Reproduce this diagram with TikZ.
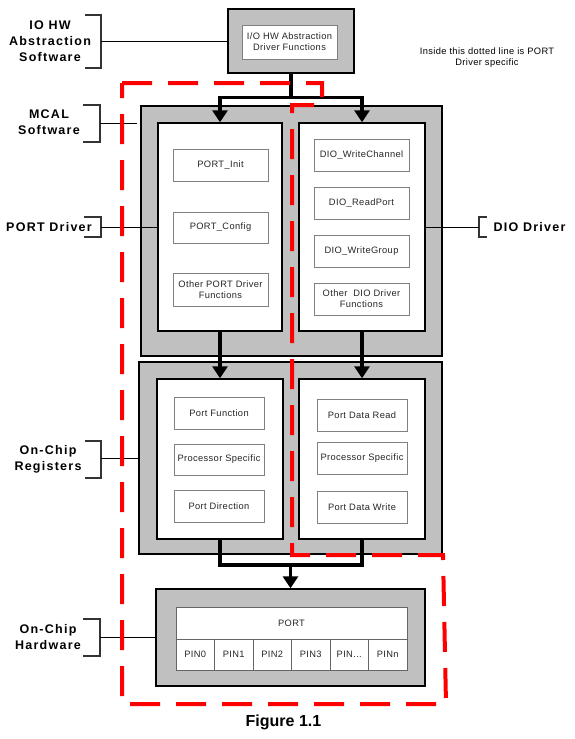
\documentclass[tikz,border=0pt]{standalone}
\usepackage{fontspec}
\setmainfont{Liberation Sans}
\newfontfamily\lblfont[LetterSpace=10]{Liberation Sans}
\newfontfamily\smfont[LetterSpace=4]{Liberation Sans}
\usetikzlibrary{arrows.meta}
\definecolor{boxgray}{RGB}{192,192,192}
\definecolor{fgray}{RGB}{128,128,128}

\begin{document}
\begin{tikzpicture}[x=1pt, y=-1pt,
    gbox/.style={draw, line width=1.5pt, fill=boxgray, inner sep=0pt},
    wbox/.style={draw, line width=1.5pt, fill=white, inner sep=0pt},
    fbox/.style={draw=fgray, line width=0.9pt, fill=white, inner sep=0pt, align=center,
      font=\smfont\fontsize{9.3}{11}\selectfont, text=black!85},
    pin/.style={draw=black!60, line width=0.8pt, fill=white, inner sep=0pt,
      minimum width=38.5pt, minimum height=31pt, font=\smfont\fontsize{9.3}{11}\selectfont, text=black!85},
    lbl/.style={align=center, font=\lblfont\bfseries\fontsize{12.5}{16}\selectfont},
    flow/.style={line width=3.8pt, -{Triangle[length=12pt, width=15pt]}},
    link/.style={line width=3.8pt},
    leader/.style={line width=0.9pt},
    brk/.style={line width=1.3pt, black!80},
    border/.style={red, line width=4pt, dash pattern=on 30pt off 16pt}]
    \useasboundingbox (0,0) rectangle (575,739);

    % IO HW abstraction
    \node[gbox, minimum width=126pt, minimum height=64pt] (io) at (291,41) {};
    \node[fbox, minimum width=95pt, minimum height=34pt] (iofn) at (289.5,42) {I/O HW Abstraction\\Driver Functions};

    % MCAL
    \node[gbox, minimum width=301pt, minimum height=250pt] (mcal) at (291.5,231) {};
    \node[wbox, minimum width=124pt, minimum height=208pt] (portdrv) at (220,227) {};
    \node[wbox, minimum width=126pt, minimum height=208pt] (diodrv) at (362,227) {};

    \node[fbox, minimum width=95pt, minimum height=32pt] (pinit) at (220.5,165) {PORT\_Init};
    \node[fbox, minimum width=95pt, minimum height=31pt] (pcfg) at (220.5,227.5) {PORT\_Config};
    \node[fbox, minimum width=95pt, minimum height=33pt] (pothr) at (220.5,289.5) {Other PORT Driver\\Functions};

    \node[fbox, minimum width=95pt, minimum height=32pt] (dwch) at (361.5,155) {DIO\_WriteChannel};
    \node[fbox, minimum width=95pt, minimum height=32pt] (drdp) at (361.5,203) {DIO\_ReadPort};
    \node[fbox, minimum width=95pt, minimum height=32pt] (dwgr) at (361.5,251) {DIO\_WriteGroup};
    \node[fbox, minimum width=95pt, minimum height=32pt] (dothr) at (361.5,299) {Other~~DIO Driver\\Functions};

    % registers
    \node[gbox, minimum width=303pt, minimum height=192pt] (regs) at (290.5,458) {};
    \node[wbox, minimum width=126pt, minimum height=160pt] (regl) at (220,459) {};
    \node[wbox, minimum width=126pt, minimum height=160pt] (regr) at (362,459) {};

    \node[fbox, minimum width=90pt, minimum height=32pt] (pfunc) at (219,413) {Port Function};
    \node[fbox, minimum width=90pt, minimum height=31pt] (pspec) at (219,459.5) {Processor Specific};
    \node[fbox, minimum width=90pt, minimum height=32pt] (pdir) at (219,506) {Port Direction};

    \node[fbox, minimum width=90pt, minimum height=32pt] (pdread) at (362,415) {Port Data Read};
    \node[fbox, minimum width=90pt, minimum height=32pt] (pspecr) at (362,458) {Processor Specific};
    \node[fbox, minimum width=90pt, minimum height=32pt] (pdwrite) at (362,507) {Port Data Write};

    % hardware
    \node[gbox, minimum width=269pt, minimum height=97pt] (hw) at (290.5,637.5) {};
    \node[pin, minimum width=231pt, minimum height=32pt] (port) at (291.5,623) {PORT};
    \node[pin] (pin0) at (195.25,654.5) {PIN0};
    \node[pin] (pin1) at (233.75,654.5) {PIN1};
    \node[pin] (pin2) at (272.25,654.5) {PIN2};
    \node[pin] (pin3) at (310.75,654.5) {PIN3};
    \node[pin] (pinx) at (349.25,654.5) {PIN...};
    \node[pin] (pinn) at (387.75,654.5) {PINn};

    % flow
    \coordinate (split) at (291,97.5);
    \draw[link] (io.south) -- (split);
    \draw[flow] (split) -| (portdrv.north);
    \draw[flow] (split) -| (diodrv.north);
    \draw[flow] (portdrv.south) -- (regl.north);
    \draw[flow] (diodrv.south) -- (regr.north);
    \coordinate (merge) at (290.5,565);
    \draw[link] (regl.south) |- (merge) -| (regr.south);
    \draw[flow] (merge) -- (hw.north);

    % layer labels
    \node[lbl] (liohw) at (50,41) {IO HW\\Abstraction\\Software};
    \draw[brk] (85,15) -- (101,15) -- (101,68) -- (85,68);
    \coordinate (biohw) at (101,41.5);
    \draw[leader] (biohw) -- (biohw -| io.west);

    \node[lbl] (lmcal) at (49,122.5) {MCAL\\Software};
    \draw[brk] (83,105) -- (100,105) -- (100,142) -- (83,142);
    \coordinate (bmcal) at (100,123);
    \draw[leader] (bmcal) -- ([xshift=-3pt]bmcal -| mcal.west);

    \node[lbl] (lport) at (49,227) {PORT Driver};
    \draw[brk] (84,217) -- (101,217) -- (101,237) -- (84,237);
    \coordinate (bport) at (101,227);
    \draw[leader] (bport) -- (portdrv.west);

    \node[lbl] (ldio) at (529.5,227) {DIO Driver};
    \draw[brk] (487,217) -- (479,217) -- (479,237) -- (487,237);
    \coordinate (bdio) at (479,227);
    \draw[leader] (diodrv.east) -- (bdio);

    \node[lbl] (lregs) at (48,459) {On-Chip\\Registers};
    \draw[brk] (85,441) -- (101,441) -- (101,478) -- (85,478);
    \coordinate (bregs) at (101,458);
    \draw[leader] (bregs) -- (bregs -| regs.west);

    \node[lbl] (lhw) at (48,637) {On-Chip\\Hardware};
    \draw[brk] (83,619) -- (100,619) -- (100,656) -- (83,656);
    \coordinate (bhw) at (100,637);
    \draw[leader] (bhw) -- (bhw -| hw.west);

    % port driver scope
    \node[align=center, font=\smfont\fontsize{9.3}{11}\selectfont] (note) at (487,58) {Inside this dotted line is PORT\\Driver specific};
    \draw[border] (122,83) -- (322,83) -- (322,105) -- (292,105) -- (292,555) -- (443,555) -- (446,704) -- (122,704) -- cycle;

    \node[font=\bfseries\fontsize{16}{19}\selectfont] (fig) at (283.5,722) {Figure 1.1};
\end{tikzpicture}
\end{document}
